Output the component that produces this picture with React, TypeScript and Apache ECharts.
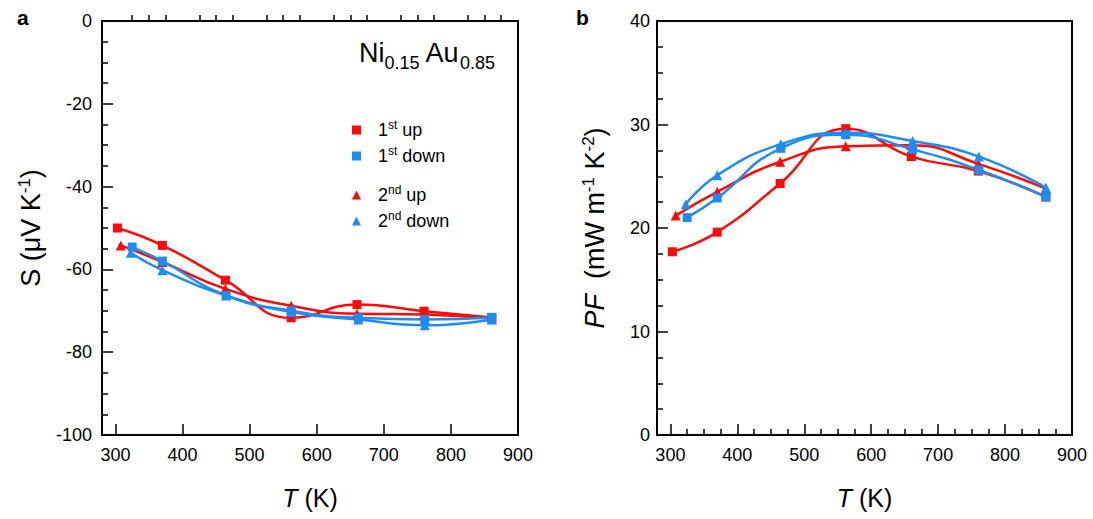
import React, { useEffect, useRef } from "react";
import * as echarts from "echarts";

// ---- Data ----
const T_UP1 = [303, 370, 464, 562, 660, 760, 861];
const T_DN1 = [325, 370, 465, 562, 662, 761, 861];
const T_UP2 = [308, 370, 464, 562, 660, 760, 861];
const T_DN2 = [323, 370, 465, 562, 662, 761, 861];

const S_UP1 = [-50.0, -54.2, -62.6, -71.7, -68.5, -70.1, -71.6];
const S_DN1 = [-54.6, -58.0, -66.3, -70.0, -71.7, -72.1, -71.6];
const S_UP2 = [-54.2, -58.2, -64.7, -68.8, -70.7, -70.9, -71.9];
const S_DN2 = [-56.0, -60.2, -66.3, -70.3, -72.1, -73.5, -72.1];

const PF_UP1 = [17.7, 19.6, 24.3, 29.6, 26.9, 25.5, 23.0];
const PF_DN1 = [21.0, 22.9, 27.7, 29.0, 27.6, 25.6, 23.0];
const PF_UP2 = [21.2, 23.5, 26.4, 27.9, 28.0, 26.2, 23.8];
const PF_DN2 = [22.3, 25.1, 28.1, 29.2, 28.4, 26.9, 23.9];

const X_MAJOR = [300, 400, 500, 600, 700, 800, 900];
const X_MINOR = [
  325, 350, 375, 425, 450, 475, 525, 550, 575, 625, 650, 675, 725, 750, 775,
  825, 850, 875,
];

const SERIES_NAMES = ["1st up", "1st down", "2nd up", "2nd down"];

const RED = "#ff0a0a";
const BLUE = "#1e8cf0";
const FONT = "'Liberation Sans', Arial, Helvetica, sans-serif";

const zip = (xs: number[], ys: number[]) => xs.map((x, i) => [x, ys[i]]);

function makeSeries(
  name: string,
  xs: number[],
  ys: number[],
  color: string,
  symbol: string,
  panel: number
) {
  return {
    name,
    type: "line",
    xAxisIndex: panel === 0 ? 0 : 2,
    yAxisIndex: panel,
    data: zip(xs, ys),
    smooth: 0.5,
    symbol,
    symbolSize: symbol === "rect" ? 9 : 10,
    showAllSymbol: true,
    lineStyle: { width: 2.5, color },
    itemStyle: { color },
    emphasis: { disabled: true },
  };
}

function xAxes(gridIndex: number) {
  const common = {
    type: "value",
    gridIndex,
    min: 280,
    max: 900,
    position: "bottom",
    splitLine: { show: false },
  };
  return [
    {
      ...common,
      name: "{i|T} (K)",
      nameLocation: "middle",
      nameGap: 50,
      nameTextStyle: {
        fontSize: 25,
        fontFamily: FONT,
        color: "#000",
        rich: {
          i: { fontSize: 25, fontFamily: FONT, fontStyle: "italic", color: "#000" },
        },
      },
      axisLine: { show: true, onZero: false, lineStyle: { color: "#000", width: 2 } },
      axisTick: {
        show: true,
        inside: true,
        length: 11,
        customValues: X_MAJOR,
        lineStyle: { color: "#000", width: 1.5 },
      },
      axisLabel: {
        show: true,
        customValues: X_MAJOR,
        margin: 11,
        fontSize: 18,
        fontFamily: FONT,
        color: "#000",
      },
    },
    {
      ...common,
      axisLine: { show: false },
      axisLabel: { show: false },
      axisTick: {
        show: true,
        inside: true,
        length: 6,
        customValues: X_MINOR,
        lineStyle: { color: "#000", width: 1.5 },
      },
    },
  ];
}

export default function App() {
  const ref = useRef<HTMLDivElement>(null);

  useEffect(() => {
    if (!ref.current) return;
    const chart = echarts.init(ref.current, null, { renderer: "svg" });

    const legendRich = {
      pad: { width: 12, fontSize: 18, fontFamily: FONT, color: "#000" },
      sup: {
        fontSize: 12,
        lineHeight: 12,
        verticalAlign: "top",
        fontFamily: FONT,
        color: "#000",
      },
    };

    const legendFormatter = (name: string) => {
      const m = name.match(/^(\d)(st|nd) (.*)$/);
      if (!m) return name;
      return `{pad| }${m[1]}{sup|${m[2]}} ${m[3]}`;
    };

    const legendCommon = {
      orient: "vertical",
      left: 347,
      itemWidth: 9,
      itemHeight: 9,
      itemGap: 4,
      formatter: legendFormatter,
      selectedMode: false,
      textStyle: {
        fontSize: 18,
        lineHeight: 22,
        fontFamily: FONT,
        color: "#000",
        rich: legendRich,
      },
    };

    const axisNameRich = {
      i: { fontSize: 27, fontStyle: "italic", fontFamily: FONT, color: "#000" },
      sup: {
        fontSize: 17,
        lineHeight: 17,
        verticalAlign: "top",
        fontFamily: FONT,
        color: "#000",
      },
    };

    const yCommon = (gridIndex: number) => ({
      type: "value",
      gridIndex,
      position: "left",
      nameLocation: "middle",
      nameRotate: 90,
      splitLine: { show: false },
      minorSplitLine: { show: false },
      axisLine: { show: true, onZero: false, lineStyle: { color: "#000", width: 2 } },
      axisTick: {
        show: true,
        inside: true,
        length: 11,
        lineStyle: { color: "#000", width: 1.5 },
      },
      minorTick: {
        show: true,
        splitNumber: 4,
        length: 6,
        lineStyle: { color: "#000", width: 1.5 },
      },
      axisLabel: {
        show: true,
        fontSize: 18,
        fontFamily: FONT,
        color: "#000",
      },
    });

    const option = {
      animation: false,
      backgroundColor: "#fff",
      textStyle: { fontFamily: FONT },
      grid: [
        {
          left: 102,
          top: 21,
          width: 416,
          height: 414,
          show: true,
          borderColor: "#000",
          borderWidth: 2,
          backgroundColor: "transparent",
          containLabel: false,
          outerBoundsMode: "none",
        },
        {
          left: 657,
          top: 21,
          width: 415,
          height: 414,
          show: true,
          borderColor: "#000",
          borderWidth: 2,
          backgroundColor: "transparent",
          containLabel: false,
          outerBoundsMode: "none",
        },
      ],
      xAxis: [...xAxes(0), ...xAxes(1)],
      yAxis: [
        {
          ...yCommon(0),
          min: -100,
          max: 0,
          interval: 20,
          name: "S (μV K{sup|-1})",
          nameGap: 56,
          nameTextStyle: {
            fontSize: 27,
            lineHeight: 30,
            fontFamily: FONT,
            color: "#000",
            rich: axisNameRich,
          },
          axisLabel: { ...yCommon(0).axisLabel, margin: 10 },
        },
        {
          ...yCommon(1),
          min: 0,
          max: 40,
          interval: 10,
          name: "{i|PF}  (mW m{sup|-1} K{sup|-2})",
          nameGap: 47,
          nameTextStyle: {
            fontSize: 27,
            lineHeight: 30,
            fontFamily: FONT,
            color: "#000",
            rich: axisNameRich,
          },
          axisLabel: { ...yCommon(1).axisLabel, margin: 7 },
        },
      ],
      legend: [
        {
          ...legendCommon,
          top: 114,
          data: [
            { name: SERIES_NAMES[0], icon: "rect" },
            { name: SERIES_NAMES[1], icon: "rect" },
          ],
        },
        {
          ...legendCommon,
          top: 179,
          data: [
            { name: SERIES_NAMES[2], icon: "triangle" },
            { name: SERIES_NAMES[3], icon: "triangle" },
          ],
        },
      ],
      graphic: [
        {
          type: "text",
          left: 17,
          top: 7,
          style: {
            text: "a",
            fontSize: 21,
            fontWeight: "bold",
            fontFamily: FONT,
            fill: "#000",
          },
        },
        {
          type: "text",
          left: 576,
          top: 7,
          style: {
            text: "b",
            fontSize: 21,
            fontWeight: "bold",
            fontFamily: FONT,
            fill: "#000",
          },
        },
        {
          type: "text",
          left: 359,
          top: 34,
          style: {
            text: "Ni{sub|0.15} Au{sub|0.85}",
            fontSize: 27,
            lineHeight: 38,
            fontFamily: FONT,
            fill: "#000",
            rich: {
              sub: {
                fontSize: 18,
                lineHeight: 18,
                verticalAlign: "bottom",
                fontFamily: FONT,
                fill: "#000",
              },
            },
          },
        },
      ],
      series: [
        makeSeries(SERIES_NAMES[0], T_UP1, S_UP1, RED, "rect", 0),
        makeSeries(SERIES_NAMES[2], T_UP2, S_UP2, RED, "triangle", 0),
        makeSeries(SERIES_NAMES[1], T_DN1, S_DN1, BLUE, "rect", 0),
        makeSeries(SERIES_NAMES[3], T_DN2, S_DN2, BLUE, "triangle", 0),
        makeSeries(SERIES_NAMES[0], T_UP1, PF_UP1, RED, "rect", 1),
        makeSeries(SERIES_NAMES[2], T_UP2, PF_UP2, RED, "triangle", 1),
        makeSeries(SERIES_NAMES[1], T_DN1, PF_DN1, BLUE, "rect", 1),
        makeSeries(SERIES_NAMES[3], T_DN2, PF_DN2, BLUE, "triangle", 1),
      ],
    };

    chart.setOption(option as any);
    return () => chart.dispose();
  }, []);

  return (
    <div
      ref={ref}
      style={{ position: "fixed", left: 0, top: 0, width: 1093, height: 519 }}
    />
  );
}
